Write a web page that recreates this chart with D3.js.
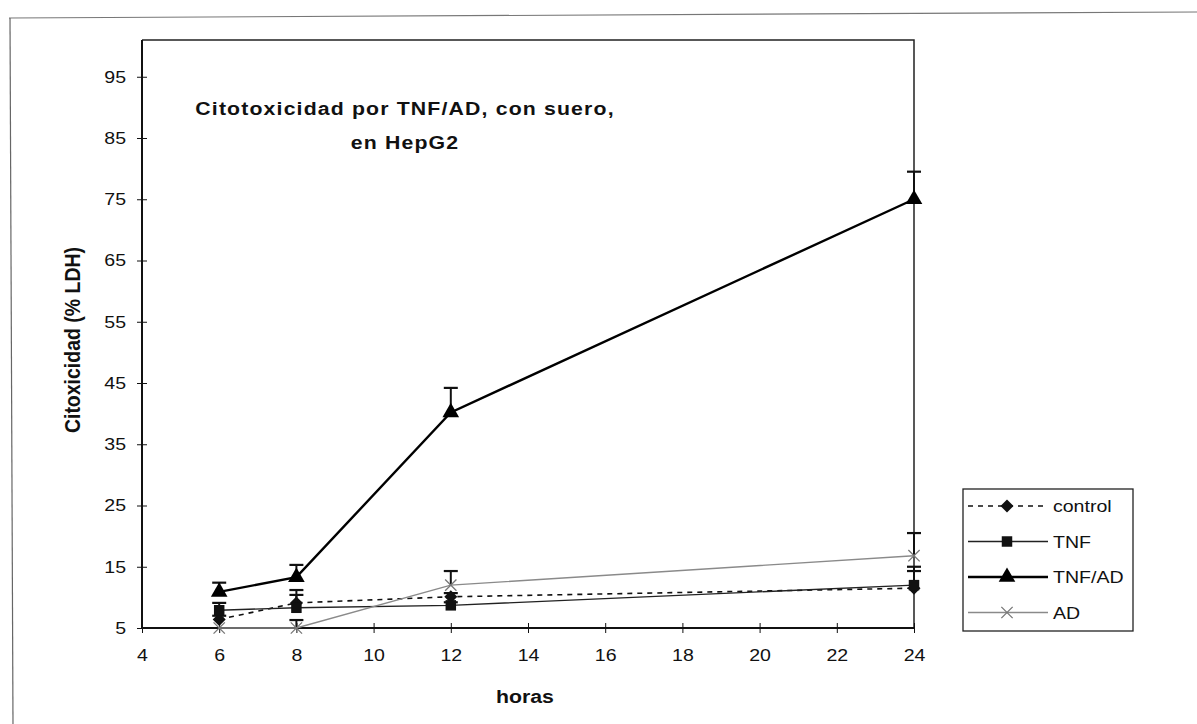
<!DOCTYPE html>
<html>
<head>
<meta charset="utf-8">
<script src="https://cdn.jsdelivr.net/npm/d3@7"></script>
<style>
	body {margin: 0; background: #fff}
	text {font-family: "Liberation Sans", Arial, sans-serif; fill: #111}
</style>
</head>
<body>
<svg width="1197" height="724"></svg>
<script>
'use strict';
// data
let aHours = [6, 8, 12, 24]
let aControl = [6.4, 9.1, 10.1, 11.5]
let aControlErr = [0.6, 2.1, 0.6, 2.8]
let aTnf = [7.9, 8.3, 8.7, 12.0]
let aTnfErr = [1.2, 2.1, 0.5, 3.0]
let aTnfAd = [10.9, 13.3, 40.2, 75.0]
let aTnfAdErr = [1.5, 2.0, 4.0, 4.5]
let aAd = [5.0, 5.0, 12.0, 16.8]
let aAdErr = [0.0, 1.3, 2.3, 3.7]
let aYTicks = [5, 15, 25, 35, 45, 55, 65, 75, 85, 95]
let aXTicks = [4, 6, 8, 10, 12, 14, 16, 18, 20, 22, 24]
let aTitle = ["Citotoxicidad por TNF/AD, con suero,", "en HepG2"]

let eSvg = d3.select("svg"),
	dWidth = +eSvg.attr("width"),
	dHeight = +eSvg.attr("height")

let dLeft = 142, dRight = 914, dTop = 40, dBottom = 628
let dStretch = 1.15 // the scan is a bit wider than tall

let sX = d3.scaleLinear().domain([4, 24]).range([dLeft, dRight])
let sY = d3.scaleLinear().domain([5, 101]).range([dBottom, dTop])

// series description: style + marker kind
let aSeries = [
	{name: "control", vals: aControl, err: aControlErr, stroke: "#111", width: 1.6, dash: "5,5", mark: "diamond", col: "#111"},
	{name: "TNF", vals: aTnf, err: aTnfErr, stroke: "#222", width: 1.4, dash: null, mark: "square", col: "#111"},
	{name: "TNF/AD", vals: aTnfAd, err: aTnfAdErr, stroke: "#000", width: 2.4, dash: null, mark: "triangle", col: "#000"},
	{name: "AD", vals: aAd, err: aAdErr, stroke: "#8a8a8a", width: 1.4, dash: null, mark: "cross", col: "#777"}
]

// outer frame of the scan (top + left only)
eSvg.append("line").attr("x1", 9).attr("y1", 18).attr("x2", dWidth).attr("y2", 12)
	.attr("stroke", "#777").attr("stroke-width", 1.2)
eSvg.append("line").attr("x1", 10).attr("y1", 18).attr("x2", 13).attr("y2", dHeight)
	.attr("stroke", "#666").attr("stroke-width", 1.2)

// plot frame top/right
eSvg.append("path")
	.attr("d", `M${dLeft},${dTop}L${dRight},${dTop}L${dRight},${dBottom}`)
	.attr("fill", "none").attr("stroke", "#222").attr("stroke-width", 1.5)

// y axis with crossing ticks
let gY = eSvg.append("g").attr("transform", `translate(${dLeft},0)`)
	.call(d3.axisLeft(sY).tickValues(aYTicks).tickSize(5))
gY.select(".domain").attr("stroke", "#111").attr("stroke-width", 2).attr("d", `M0,${dTop}V${dBottom}`)
gY.selectAll(".tick line").attr("x1", 5).attr("x2", -5).attr("stroke", "#111")
gY.selectAll(".tick text").attr("font-size", 17).attr("font-family", "Liberation Sans")
	.attr("x", 0).attr("transform", `translate(-16,0) scale(${dStretch},1)`)

// x axis with crossing ticks
let gX = eSvg.append("g").attr("transform", `translate(0,${dBottom})`)
	.call(d3.axisBottom(sX).tickValues(aXTicks).tickSize(5))
gX.select(".domain").attr("stroke", "#111").attr("stroke-width", 2).attr("d", `M${dLeft},0H${dRight}`)
gX.selectAll(".tick line").attr("y1", -5).attr("y2", 5).attr("stroke", "#111")
gX.selectAll(".tick text").attr("font-size", 17).attr("font-family", "Liberation Sans")
	.attr("y", 0).attr("transform", `translate(0,21) scale(${dStretch},1)`)

// titles
aTitle.forEach((t, i) => {
	eSvg.append("text").attr("transform", `translate(405,${115 + i * 34}) scale(${dStretch},1)`)
		.attr("text-anchor", "middle")
		.attr("font-size", 18.5).attr("font-weight", "bold").attr("letter-spacing", 1)
		.text(t)})
eSvg.append("text").attr("transform", `translate(80,340) scale(${dStretch},1) rotate(-90)`)
	.attr("text-anchor", "middle")
	.attr("font-size", 19.5).attr("font-weight", "bold")
	.text("Citoxicidad (% LDH)")
eSvg.append("text").attr("transform", `translate(525,703) scale(${dStretch},1)`)
	.attr("text-anchor", "middle")
	.attr("font-size", 18.5).attr("font-weight", "bold")
	.text("horas")

function markPath(kind) {
	// excel-like diamond: as wide as tall
	if (kind === "diamond") return "M0,-6.5L6.5,0L0,6.5L-6.5,0Z"
	if (kind === "square") return d3.symbol(d3.symbolSquare, 110)()
	if (kind === "triangle") return d3.symbol(d3.symbolTriangle, 120)()
	return d3.symbol(d3.symbolX, 85)()}

function drawMark(g, s, x, y) {
	let e = g.append("path").attr("d", markPath(s.mark))
		.attr("transform", `translate(${x},${y})`)
	if (s.mark === "cross") e.attr("fill", "none").attr("stroke", s.col).attr("stroke-width", 1.3)
	else e.attr("fill", s.col)}

// series
let eData = eSvg.append("g").attr("class", "series")
aSeries.forEach(s => {
	let aPts = aHours.map((h, i) => ({h: h, v: s.vals[i], e: s.err[i]}))
	// upper error bars only
	let gErr = eData.append("g")
	aPts.filter(p => p.e > 0).forEach(p => {
		gErr.append("line").attr("x1", sX(p.h)).attr("x2", sX(p.h))
			.attr("y1", sY(p.v)).attr("y2", sY(p.v + p.e))
			.attr("stroke", "#111").attr("stroke-width", 2)
		gErr.append("line").attr("x1", sX(p.h) - 7).attr("x2", sX(p.h) + 7)
			.attr("y1", sY(p.v + p.e)).attr("y2", sY(p.v + p.e))
			.attr("stroke", "#111").attr("stroke-width", 2.2)})
	eData.append("path").datum(aPts)
		.attr("d", d3.line().x(p => sX(p.h)).y(p => sY(p.v)))
		.attr("fill", "none").attr("stroke", s.stroke).attr("stroke-width", s.width)
		.attr("stroke-dasharray", s.dash)
	let gMarks = eData.append("g")
	aPts.forEach(p => drawMark(gMarks, s, sX(p.h), sY(p.v)))
})

// legend
let gLeg = eSvg.append("g").attr("class", "legend")
gLeg.append("rect").attr("x", 963).attr("y", 489).attr("width", 170).attr("height", 142)
	.attr("fill", "#fff").attr("stroke", "#222").attr("stroke-width", 1.3)
aSeries.forEach((s, i) => {
	let dy = 506 + i * 35.5
	gLeg.append("line").attr("x1", 968).attr("x2", 1048).attr("y1", dy).attr("y2", dy)
		.attr("stroke", s.stroke).attr("stroke-width", s.width).attr("stroke-dasharray", s.dash)
	drawMark(gLeg, s, 1007, dy)
	gLeg.append("text").attr("transform", `translate(1053,${dy + 6}) scale(${dStretch},1)`)
		.attr("font-size", 17).text(s.name)})
</script>
</body>
</html>
